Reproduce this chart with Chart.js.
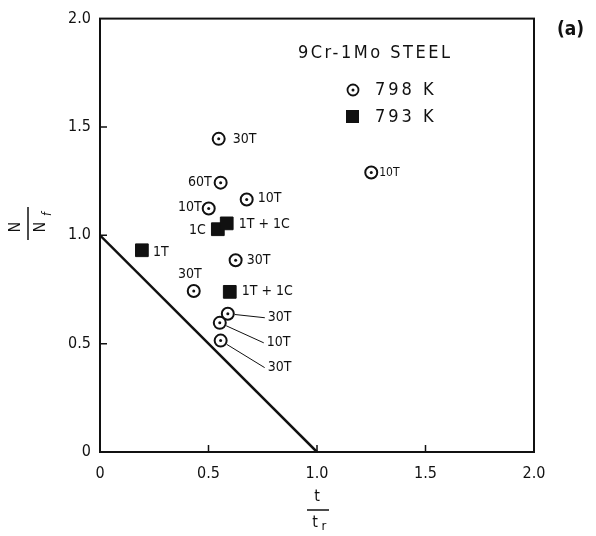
<!DOCTYPE html>
<html>
<head>
<meta charset="utf-8">
<script src="https://cdn.jsdelivr.net/npm/chart.js@4"></script>
<style>
  html, body { margin: 0; padding: 0; background: #fff; }
  #wrap { width: 596px; height: 536px; }
</style>
</head>
<body>
<div id="wrap"><canvas id="chart" width="596" height="536"></canvas></div>
<script>
// 798 K - open circles with centre dot
const circleX = [0.547, 0.556, 0.676, 0.501, 0.625, 0.432, 0.589, 0.552, 0.556, 1.25]
const circleY = [1.445, 1.243, 1.165, 1.124, 0.885, 0.743, 0.638, 0.596, 0.514, 1.29]
const circleLabels = ["30T", "60T", "10T", "10T", "30T", "30T", "30T", "10T", "30T", "10T"]

// 793 K - filled squares
const squareX = [0.543, 0.584, 0.193, 0.598]
const squareY = [1.028, 1.055, 0.931, 0.739]
const squareLabels = ["1C", "1T + 1C", "1T", "1T + 1C"]

// life fraction rule line
const ruleX = [0, 1]
const ruleY = [1, 0]

const tickValues = [0, 0.5, 1.0, 1.5, 2.0]

// where each label sits next to its marker: [dx, dy, align, leader]
const circleLabelPlace = [
    [14, 0, "left"], [-9, 0, "right"], [11, -1, "left"], [-7, -1, "right"],
    [11, 0, "left"], [-4, -17, "center"], [40, 4, "left", true],
    [47, 20, "left", true], [47, 27, "left", true], [8, 0, "left"],
]
const squareLabelPlace = [[-12, 1, "right"], [12, 1, "left"], [11, 2, "left"], [12, 0, "left"]]

const INK = "#111"
const FONT = "'DejaVu Sans Condensed', 'DejaVu Sans', sans-serif"

const toPoints = (xs, ys) => xs.map((v, i) => ({x : v, y : ys[i]}))

const annotate = {
    id : "annotate",
    afterDatasetsDraw(chart) {
        const ctx = chart.ctx
        const a = chart.chartArea
        const sx = chart.scales.x, sy = chart.scales.y
        ctx.save()
        ctx.strokeStyle = INK
        ctx.fillStyle = INK
        ctx.lineWidth = 2
        ctx.strokeRect(a.left, a.top, a.right - a.left, a.bottom - a.top)

        // small inward ticks
        ctx.lineWidth = 1.5
        ctx.beginPath()
        sx.ticks.forEach(t => {
            if (t.value <= 0 || t.value >= 2) return
            const px = sx.getPixelForValue(t.value)
            ctx.moveTo(px, a.bottom); ctx.lineTo(px, a.bottom - 7)
        })
        sy.ticks.forEach(t => {
            if (t.value <= 0 || t.value >= 2) return
            const py = sy.getPixelForValue(t.value)
            ctx.moveTo(a.left, py); ctx.lineTo(a.left + 7, py)
        })
        ctx.stroke()

        // centre dots of the circles
        chart.getDatasetMeta(1).data.forEach(el => {
            ctx.beginPath(); ctx.arc(el.x, el.y, 1.5, 0, Math.PI * 2); ctx.fill()
        })

        // point labels
        ctx.textBaseline = "middle"
        const drawLabels = (meta, labels, place) => {
            meta.data.forEach((el, i) => {
                const [dx, dy, align, leader] = place[i]
                ctx.font = (labels === circleLabels && i === 9) ? "12px " + FONT : "14px " + FONT
                ctx.textAlign = align
                const tx = el.x + dx, ty = el.y + dy
                ctx.fillText(labels[i], tx, ty)
                if (leader) {
                    const ang = Math.atan2(ty - el.y, tx - 3 - el.x)
                    ctx.lineWidth = 1
                    ctx.beginPath()
                    ctx.moveTo(el.x + 7 * Math.cos(ang), el.y + 7 * Math.sin(ang))
                    ctx.lineTo(tx - 3, ty)
                    ctx.stroke()
                }
            })
        }
        drawLabels(chart.getDatasetMeta(1), circleLabels, circleLabelPlace)
        drawLabels(chart.getDatasetMeta(2), squareLabels, squareLabelPlace)

        // legend block
        ctx.textAlign = "left"
        ctx.font = "18px " + FONT
        ctx.letterSpacing = "2.5px"
        ctx.fillText("9Cr-1Mo STEEL", 298, 53)
        ctx.letterSpacing = "3px"
        ctx.fillText("798 K", 375, 90)
        ctx.fillText("793 K", 375, 117)
        ctx.letterSpacing = "0px"
        ctx.lineWidth = 1.8
        ctx.beginPath(); ctx.arc(353, 90, 5.5, 0, Math.PI * 2); ctx.stroke()
        ctx.beginPath(); ctx.arc(353, 90, 1.5, 0, Math.PI * 2); ctx.fill()
        ctx.fillRect(346, 110, 13, 13)

        // panel tag
        ctx.font = "bold 19px " + FONT
        ctx.fillText("(a)", 557, 30)

        // x axis title  t / t_r
        const cx = sx.getPixelForValue(1)
        ctx.font = "16px " + FONT
        ctx.textAlign = "center"
        ctx.fillText("t", cx, 497)
        ctx.lineWidth = 1.5
        ctx.beginPath(); ctx.moveTo(cx - 10, 510); ctx.lineTo(cx + 12, 510); ctx.stroke()
        ctx.fillText("t", cx - 2, 523)
        ctx.font = "13px " + FONT
        ctx.fillText("r", cx + 7, 527)

        // y axis title  N / N_f (rotated)
        ctx.translate(28, 224)
        ctx.rotate(-Math.PI / 2)
        ctx.font = "16px " + FONT
        ctx.fillText("N", -3, -12)
        ctx.fillText("N", -3, 13)
        ctx.font = "italic 12px " + FONT
        ctx.fillText("f", 10, 20)
        ctx.beginPath(); ctx.moveTo(-16, 0); ctx.lineTo(17, 0); ctx.stroke()
        ctx.restore()
    },
}

const tickLabel = v => v === 0 ? "0" : Number(v).toFixed(1)

const chart = new Chart(document.getElementById("chart").getContext("2d"), {
    type : "scatter",
    data : {
        datasets : [{
            type : "line",
            label : "rule",
            data : toPoints(ruleX, ruleY),
            borderColor : INK,
            borderWidth : 2.5,
            pointRadius : 0,
            fill : false,
        }, {
            label : "798 K",
            data : toPoints(circleX, circleY),
            pointStyle : "circle",
            pointRadius : 6,
            backgroundColor : "#fff",
            borderColor : INK,
            borderWidth : 2,
        }, {
            label : "793 K",
            data : toPoints(squareX, squareY),
            pointStyle : "rect",
            pointRadius : 9,
            backgroundColor : INK,
            borderColor : INK,
            borderWidth : 1,
        }],
    }, options : {
        responsive : false,
        animation : false,
        layout : {
            padding : {left : 0, top : 16, right : 62, bottom : 0},
        },
        scales : {
            x : {
                type : "linear",
                min : 0,
                max : 2,
                afterFit : s => { s.height = 84 },
                afterBuildTicks : s => { s.ticks = tickValues.map(v => ({value : v})) },
                grid : {display : false, drawTicks : false},
                border : {display : false},
                ticks : {
                    padding : 12,
                    color : INK,
                    font : {family : FONT, size : 16},
                    callback : tickLabel,
                },
            },
            y : {
                type : "linear",
                min : 0,
                max : 2,
                afterFit : s => { s.width = 100 },
                afterBuildTicks : s => { s.ticks = tickValues.map(v => ({value : v})) },
                grid : {display : false, drawTicks : false},
                border : {display : false},
                ticks : {
                    padding : 9,
                    color : INK,
                    font : {family : FONT, size : 16},
                    callback : tickLabel,
                },
            },
        }, plugins : {
            legend : {display : false},
            tooltip : {enabled : false},
        },
    },
    plugins : [annotate],
})
</script>
</body>
</html>
